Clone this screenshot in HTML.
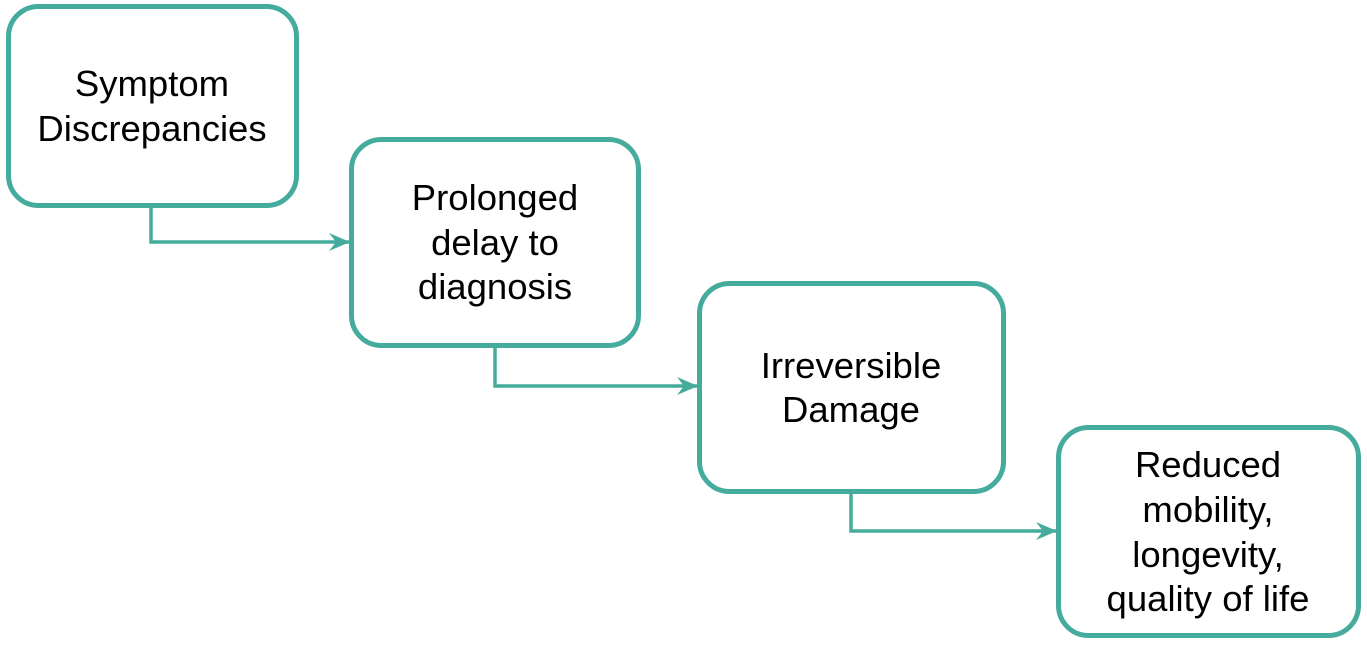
<!DOCTYPE html>
<html><head><style>
body{margin:0;width:1367px;height:646px;background:#fff;overflow:hidden}
svg{position:absolute;left:0;top:0}
text{font-family:"Liberation Sans",Arial,sans-serif;font-size:36.5px;fill:#000;text-anchor:middle}
</style></head><body>
<svg width="1367" height="646" viewBox="0 0 1367 646">
<defs><marker id="a" markerWidth="22" markerHeight="20" refX="20" refY="10" orient="auto" markerUnits="userSpaceOnUse"><path d="M0,1 L21,10 L0,19 L7,10 Z" fill="#45ab9c"/></marker></defs>
<g fill="none" stroke="#45ab9c" stroke-width="5">
<rect x="8.5" y="6.5" width="288" height="199" rx="30"/>
<rect x="351.5" y="139.5" width="287" height="206" rx="30"/>
<rect x="699.5" y="283.5" width="304" height="208" rx="30"/>
<rect x="1058.5" y="427.5" width="300" height="208" rx="30"/>
<g stroke-width="3.5">
<path d="M151,207 V242 H349" marker-end="url(#a)"/>
<path d="M495,347 V386 H697" marker-end="url(#a)"/>
<path d="M851,493 V531 H1056" marker-end="url(#a)"/>
</g></g>
<text x="152" y="96">Symptom</text>
<text x="152" y="141">Discrepancies</text>
<text x="495" y="210">Prolonged</text>
<text x="495" y="255">delay to</text>
<text x="495" y="299">diagnosis</text>
<text x="851" y="378">Irreversible</text>
<text x="851" y="422">Damage</text>
<text x="1208" y="477">Reduced</text>
<text x="1208" y="522">mobility,</text>
<text x="1208" y="567">longevity,</text>
<text x="1208" y="611">quality of life</text>
</svg>
</body></html>
